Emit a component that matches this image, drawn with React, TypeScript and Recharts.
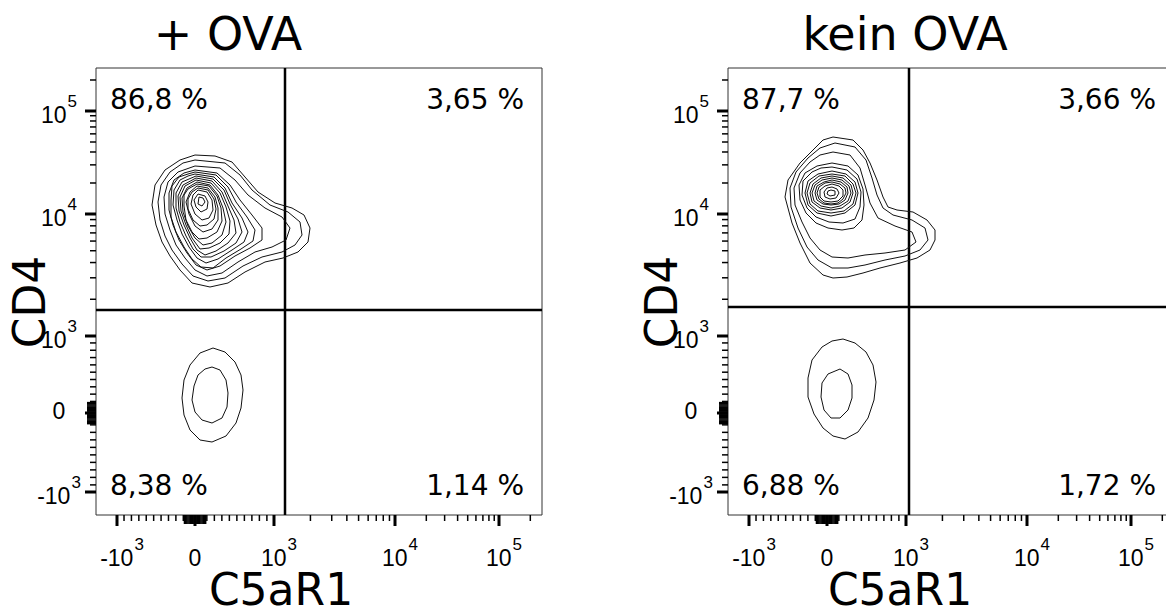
import React from 'react'
import { ScatterChart, Scatter, XAxis, YAxis, ReferenceLine, ReferenceArea } from 'recharts'

// display units of the biexponential axes (0..446 across, 0..447 up)
const xMajorTicks = [21, 99, 178, 299, 403]
const yMajorTicks = [23, 102, 179, 301, 404]
const majorLabels = [['-10', '3'], ['0', ''], ['10', '3'], ['10', '4'], ['10', '5']]

const plusOvaQuadrants = ['86,8 %', '3,65 %', '8,38 %', '1,14 %']
const keinOvaQuadrants = ['87,7 %', '3,66 %', '6,88 %', '1,72 %']

// gates: [C5aR1, CD4] in display units
const plusOvaGate = [189, 205]
const keinOvaGate = [181, 208]

// contour lines, outermost first
const plusOvaUpper: number[][][] = [
    [[99, 360], [119, 359], [136, 353], [149, 338], [162, 323], [179, 312], [196, 307], [208, 300], [214, 287], [212, 273], [202, 263], [187, 257], [169, 253], [149, 243], [132, 232], [114, 228], [96, 232], [84, 245], [74, 259], [66, 273], [60, 290], [56, 310], [59, 330], [69, 345], [84, 355]],
    [[99, 355], [129, 352], [144, 340], [156, 325], [174, 310], [192, 303], [204, 293], [206, 280], [199, 270], [186, 263], [166, 258], [147, 249], [129, 237], [112, 234], [97, 239], [86, 251], [76, 265], [69, 279], [64, 295], [62, 313], [65, 330], [74, 343], [87, 352]],
    [[99, 349], [124, 347], [139, 335], [152, 320], [169, 307], [186, 298], [194, 287], [190, 275], [176, 268], [159, 263], [142, 253], [126, 242], [111, 239], [99, 245], [89, 257], [80, 270], [74, 285], [69, 301], [68, 318], [72, 333], [82, 343]],
    [[99, 345], [121, 342], [134, 330], [144, 315], [156, 300], [166, 287], [166, 275], [154, 267], [139, 259], [124, 249], [111, 245], [100, 250], [91, 262], [83, 275], [77, 290], [73, 305], [73, 322], [78, 335], [88, 342]],
    [[99, 343], [120, 340], [132, 328], [140, 313], [151, 298], [159, 285], [157, 274], [145, 266], [130, 257], [117, 247], [105, 248], [96, 256], [88, 268], [80, 283], [75, 298], [75, 315], [76, 329], [83, 338], [92, 341]],
    [[99, 341], [118, 338], [129, 327], [136, 312], [146, 297], [152, 283], [148, 273], [136, 265], [122, 256], [110, 252], [101, 257], [93, 268], [86, 281], [81, 295], [77, 310], [78, 325], [84, 335], [92, 339]],
    [[100, 339], [117, 336], [128, 325], [134, 311], [142, 296], [146, 283], [140, 272], [128, 264], [115, 258], [105, 258], [97, 266], [90, 279], [84, 293], [80, 307], [80, 322], [86, 333]],
    [[100, 337], [116, 334], [126, 323], [132, 309], [138, 295], [140, 282], [132, 272], [120, 264], [109, 260], [101, 265], [94, 277], [88, 290], [83, 304], [82, 319], [87, 330]],
    [[100, 335], [115, 332], [124, 322], [130, 308], [134, 294], [133, 281], [124, 272], [113, 267], [104, 266], [96, 277], [90, 290], [85, 304], [84, 318], [89, 329]],
    [[101, 333], [114, 330], [122, 320], [127, 307], [130, 293], [126, 280], [116, 272], [107, 270], [99, 277], [92, 289], [87, 303], [86, 317], [91, 327]],
    [[101, 331], [113, 329], [121, 319], [125, 307], [126, 294], [121, 283], [111, 277], [103, 276], [96, 283], [90, 295], [88, 309], [88, 320], [92, 326]],
    [[101, 329], [112, 327], [119, 318], [122, 307], [122, 295], [116, 286], [107, 283], [99, 289], [93, 301], [90, 313], [94, 323]],
    [[102, 327], [112, 325], [118, 316], [120, 306], [118, 296], [111, 290], [104, 289], [97, 295], [92, 306], [92, 316], [96, 323]],
    [[102, 325], [111, 323], [116, 315], [117, 305], [113, 297], [106, 295], [99, 301], [95, 311], [97, 320]],
    [[102, 321], [109, 319], [112, 313], [111, 306], [105, 303], [100, 308], [98, 315]],
    [[103, 318], [107, 317], [109, 313], [106, 309], [102, 311]],
]

const plusOvaLower: number[][][] = [
    [[117, 167], [129, 163], [139, 153], [145, 140], [147, 125], [145, 107], [140, 92], [130, 79], [116, 73], [104, 75], [94, 85], [88, 100], [86, 117], [88, 135], [94, 150], [104, 162]],
    [[116, 148], [124, 145], [130, 135], [132, 122], [131, 108], [126, 97], [116, 92], [106, 95], [99, 103], [96, 115], [98, 129], [102, 140], [109, 146]],
]

const keinOvaUpper: number[][][] = [
    [[105, 378], [125, 375], [135, 365], [142, 352], [149, 335], [155, 318], [160, 308], [169, 305], [185, 303], [199, 295], [207, 285], [207, 275], [202, 265], [189, 257], [172, 252], [152, 247], [135, 242], [119, 238], [105, 237], [95, 240], [82, 252], [72, 272], [64, 292], [57, 318], [60, 335], [72, 352], [85, 365], [95, 375]],
    [[107, 372], [127, 368], [138, 355], [144, 337], [149, 320], [155, 307], [165, 300], [184, 295], [197, 287], [200, 275], [192, 265], [177, 259], [157, 255], [137, 250], [120, 247], [104, 247], [90, 255], [79, 268], [70, 287], [63, 308], [62, 327], [68, 343], [80, 357], [92, 367]],
    [[105, 363], [122, 360], [132, 347], [137, 330], [142, 312], [150, 297], [167, 289], [184, 283], [188, 273], [177, 265], [157, 262], [137, 260], [120, 257], [104, 258], [92, 265], [82, 277], [74, 293], [67, 310], [66, 327], [72, 342], [82, 353], [92, 360]],
    [[104, 352], [120, 349], [130, 340], [135, 326], [136, 310], [134, 295], [126, 287], [114, 285], [100, 287], [88, 292], [78, 302], [72, 315], [71, 330], [77, 342], [89, 349]],
    [[104, 348], [119, 345], [129, 336], [133, 323], [132, 308], [127, 296], [115, 292], [101, 293], [88, 298], [79, 307], [74, 320], [75, 334], [84, 343], [93, 347]],
    [[104, 344], [118, 341], [127, 333], [130, 322], [127, 310], [117, 302], [103, 299], [89, 302], [80, 310], [77, 322], [80, 334], [90, 341]],
    [[104, 341], [117, 339], [125, 331], [128, 322], [125, 311], [116, 304], [103, 302], [90, 304], [82, 311], [79, 322], [82, 332], [91, 339]],
    [[104, 339], [115, 337], [123, 330], [125, 322], [122, 313], [114, 307], [103, 305], [92, 307], [84, 313], [82, 322], [85, 331], [93, 337]],
    [[104, 337], [114, 335], [121, 329], [123, 322], [120, 314], [112, 309], [103, 307], [93, 309], [86, 314], [84, 322], [87, 330], [94, 335]],
    [[104, 335], [113, 333], [119, 328], [120, 322], [117, 315], [111, 311], [103, 310], [95, 311], [89, 315], [87, 322], [89, 329], [96, 333]],
    [[104, 333], [112, 331], [117, 327], [118, 322], [115, 316], [110, 312], [103, 311], [96, 312], [91, 316], [89, 322], [91, 328], [97, 332]],
    [[104, 331], [111, 329], [115, 325], [115, 319], [110, 314], [103, 313], [96, 314], [92, 318], [92, 325], [97, 329]],
    [[104, 328], [109, 326], [111, 322], [108, 317], [102, 316], [97, 318], [96, 323], [99, 327]],
    [[103, 325], [107, 324], [107, 320], [102, 319], [99, 321], [100, 324]],
]

const keinOvaLower: number[][][] = [
    [[115, 176], [127, 172], [138, 163], [145, 150], [148, 133], [146, 115], [140, 97], [130, 83], [117, 76], [105, 79], [95, 87], [86, 101], [80, 118], [80, 137], [84, 155], [94, 168], [104, 174]],
    [[112, 146], [120, 141], [124, 130], [124, 117], [120, 105], [112, 97], [103, 97], [96, 105], [93, 118], [94, 132], [100, 141]],
]

const X_MAX = 446
const Y_MAX = 447

// minor ticks: +-10..90 and +-100..900 around 0, then 2..9 x 10^k per decade
function minorTicks(m: number[], max: number) {
    const minor: number[] = []
    const cluster: number[] = []
    for (let k = 1; k <= 9; k++) {
        const f = 0.15 + (k - 1) * 0.095
        minor.push(m[1] + (m[0] - m[1]) * f, m[1] + (m[2] - m[1]) * f)
        const g = 0.015 * k
        cluster.push(m[1] + (m[0] - m[1]) * g, m[1] + (m[2] - m[1]) * g)
    }
    for (let k = 2; k <= 9; k++) {
        const l = Math.log10(k)
        minor.push(m[2] + l * (m[3] - m[2]))
        minor.push(m[3] + l * (m[4] - m[3]))
        const top = m[4] + l * (m[4] - m[3])
        if (top <= max) minor.push(top)
    }
    return { minor, cluster }
}

const xMinor = minorTicks(xMajorTicks, X_MAX)
const yMinor = minorTicks(yMajorTicks, Y_MAX)
const xTicks = [...xMajorTicks, ...xMinor.minor, ...xMinor.cluster]
const yTicks = [...yMajorTicks, ...yMinor.minor, ...yMinor.cluster]

const tickFont = '"Liberation Sans", Arial, sans-serif'
const bigFont = '"DejaVu Sans", Verdana, sans-serif'

const tickLen = (v: number, major: number[], cluster: number[]) =>
    major.includes(v) ? 11 : cluster.includes(v) ? 9 : 6

function TickLabel({ x, y, i, shift }: { x: number; y: number; i: number; shift: number }) {
    const [base, sup] = majorLabels[i]
    return (
        <text x={x + (sup ? shift : 0)} y={y} textAnchor="middle" fill="#000" fontFamily={tickFont} fontSize="23px"
            style={{ fontSize: '23px' }}>
            {base}
            {sup && <tspan dy={-16} dx={1} fontSize="17px" style={{ fontSize: '17px' }}>{sup}</tspan>}
        </text>
    )
}

// eslint-disable-next-line @typescript-eslint/no-explicit-any
const XTick = ({ x, y, payload }: any) => {
    const i = xMajorTicks.indexOf(payload.value)
    const major = i >= 0
    return (
        <g>
            <line x1={x} x2={x} y1={y} y2={y + tickLen(payload.value, xMajorTicks, xMinor.cluster)} stroke="#000" strokeWidth={major ? 3 : 1.5} />
            {major && <TickLabel x={x} y={y + 51} i={i} shift={5} />}
        </g>
    )
}

// eslint-disable-next-line @typescript-eslint/no-explicit-any
const YTick = ({ x, y, payload }: any) => {
    const i = yMajorTicks.indexOf(payload.value)
    const major = i >= 0
    return (
        <g>
            <line x1={x - tickLen(payload.value, yMajorTicks, yMinor.cluster)} x2={x} y1={y} y2={y} stroke="#000" strokeWidth={major ? 3 : 1.5} />
            {major && <TickLabel x={x - 37} y={y + (majorLabels[i][1] ? 12 : 6)} i={i} shift={0} />}
        </g>
    )
}

const toPoints = (c: number[][]) => [...c, c[0]].map(([x, y]) => ({ x, y }))

interface FlowPlotProps {
    contours: number[][][]
    gate: number[]
}

function FlowPlot({ contours, gate }: FlowPlotProps) {
    return (
        <ScatterChart width={560} height={615} margin={{ top: 68, right: 18, bottom: 0, left: 0 }}>
            <XAxis type="number" dataKey="x" domain={[0, X_MAX]} ticks={xTicks} interval={0} height={100} allowDataOverflow
                axisLine={false} tickLine={false} tickSize={0} tickMargin={0} tick={(p) => <XTick {...p} />} />
            <YAxis type="number" dataKey="y" domain={[0, Y_MAX]} ticks={yTicks} interval={0} width={96} allowDataOverflow
                axisLine={false} tickLine={false} tickSize={0} tickMargin={0} tick={(p) => <YTick {...p} />} />
            <ReferenceArea x1={0} x2={X_MAX} y1={0} y2={Y_MAX} fill="none" stroke="#333" strokeWidth={1} />
            {contours.map((c, i) => (
                <Scatter key={i} data={toPoints(c)} line={{ stroke: '#111', strokeWidth: 1 }} lineType="joint"
                    shape={() => <g />} isAnimationActive={false} />
            ))}
            <ReferenceLine x={gate[0]} stroke="#000" strokeWidth={2.5} />
            <ReferenceLine y={gate[1]} stroke="#000" strokeWidth={2.5} />
        </ScatterChart>
    )
}

function QuadrantTexts({ left, labels }: { left: number; labels: string[] }) {
    const s = { fontFamily: bigFont, fontSize: 28 }
    return (
        <g fill="#000">
            <text x={left + 14} y={109} style={s}>{labels[0]}</text>
            <text x={left + 428} y={109} textAnchor="end" style={s}>{labels[1]}</text>
            <text x={left + 14} y={495} style={s}>{labels[2]}</text>
            <text x={left + 428} y={495} textAnchor="end" style={s}>{labels[3]}</text>
        </g>
    )
}

export default function App() {
    const title = { fontFamily: bigFont, fontSize: 46 }
    const axis = { fontFamily: bigFont, fontSize: 44 }
    return (
        <div style={{ position: 'absolute', left: 0, top: 0, width: 1166, height: 615, overflow: 'hidden', background: '#fff' }}>
            <div style={{ position: 'absolute', left: 0, top: 0 }}>
                <FlowPlot contours={[...plusOvaUpper, ...plusOvaLower]} gate={plusOvaGate} />
            </div>
            <div style={{ position: 'absolute', left: 632, top: 0 }}>
                <FlowPlot contours={[...keinOvaUpper, ...keinOvaLower]} gate={keinOvaGate} />
            </div>
            <svg width={1166} height={615} style={{ position: 'absolute', left: 0, top: 0, pointerEvents: 'none' }}>
                <text x={228} y={50} textAnchor="middle" style={title}>+ OVA</text>
                <text x={905} y={50} textAnchor="middle" style={title}>kein OVA</text>
                <text x={45} y={302} transform="rotate(-90 45 302)" textAnchor="middle" style={axis}>CD4</text>
                <text x={677} y={302} transform="rotate(-90 677 302)" textAnchor="middle" style={axis}>CD4</text>
                <text x={281} y={605} textAnchor="middle" style={axis}>C5aR1</text>
                <text x={900} y={605} textAnchor="middle" style={axis}>C5aR1</text>
                <QuadrantTexts left={96} labels={plusOvaQuadrants} />
                <QuadrantTexts left={728} labels={keinOvaQuadrants} />
            </svg>
        </div>
    )
}
